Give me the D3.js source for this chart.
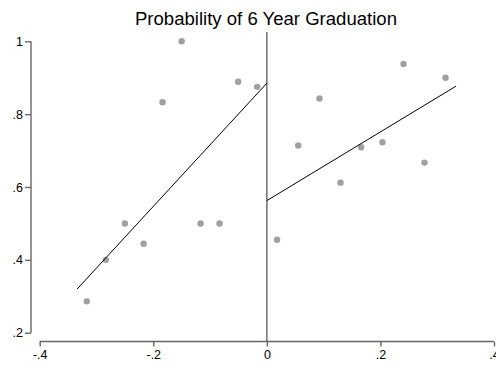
<!DOCTYPE html>
<html><head><meta charset="utf-8">
<script src="https://cdn.jsdelivr.net/npm/d3@7"></script>
<style>body{margin:0;background:#fff}svg{display:block}</style>
</head><body>
<svg id="c" width="496" height="367"></svg>
<script>
const title = "Probability of 6 Year Graduation";
const leftX = [-0.317, -0.2835, -0.25, -0.217, -0.1837, -0.150, -0.1167, -0.0833, -0.0505, -0.017];
const leftY = [0.286, 0.400, 0.500, 0.444, 0.833, 1.000, 0.500, 0.500, 0.889, 0.875];
const rightX = [0.018, 0.0552, 0.0927, 0.1297, 0.166, 0.2036, 0.2407, 0.2776, 0.3146];
const rightY = [0.455, 0.714, 0.843, 0.612, 0.709, 0.723, 0.938, 0.667, 0.900];
const leftFitX = [-0.334, 0];
const leftFitY = [0.320, 0.885];
const rightFitX = [0, 0.3333];
const rightFitY = [0.5626, 0.877];
const xTicks = [-0.4, -0.2, 0, 0.2, 0.4];
const xTickLabels = ["-.4", "-.2", "0", ".2", ".4"];
const yTicks = [0.2, 0.4, 0.6, 0.8, 1];
const yTickLabels = [".2", ".4", ".6", ".8", "1"];

const svg = d3.select("#c");
const font = "'Liberation Sans', Arial, sans-serif";
const x = d3.scaleLinear().domain([-0.4, 0.4]).range([39.7, 494]);
const y = d3.scaleLinear().domain([0.2, 1]).range([332.7, 41.3]);
const axisColor = "#666";

svg.append("text").attr("x", 266).attr("y", 25).attr("text-anchor", "middle")
  .attr("font-family", font).attr("font-size", 17.5).attr("fill", "#000")
  .attr("textLength", 262).attr("lengthAdjust", "spacingAndGlyphs").text(title);

// Y axis
const ya = svg.append("g").attr("transform", "translate(31,0)")
  .call(d3.axisLeft(y).tickValues(yTicks).tickFormat((d, i) => yTickLabels[i]).tickSize(6).tickPadding(2));
ya.select(".domain").attr("d", `M0,${y(0.2)}V${y(1)}`);
// X axis
const xa = svg.append("g").attr("transform", "translate(0,341.5)")
  .call(d3.axisBottom(x).tickValues(xTicks).tickFormat((d, i) => xTickLabels[i]).tickSize(5).tickPadding(4));
xa.select(".domain").attr("d", `M${x(-0.4)},0H${x(0.4)}`);
[ya, xa].forEach(a => {
  a.selectAll(".domain, .tick line").attr("stroke", axisColor).attr("stroke-width", 1.4);
  a.selectAll("text").attr("font-family", font).attr("font-size", 12.5).attr("fill", "#000");
});

// vertical cutoff line
svg.append("line").attr("x1", x(0)).attr("x2", x(0)).attr("y1", 32).attr("y2", 341.5)
  .attr("stroke", axisColor).attr("stroke-width", 1.4);

// points
const pts = leftX.map((v, i) => [v, leftY[i]]).concat(rightX.map((v, i) => [v, rightY[i]]));
svg.append("g").selectAll("circle").data(pts).join("circle")
  .attr("cx", d => x(d[0])).attr("cy", d => y(d[1])).attr("r", 3.2).attr("fill", "#a0a0a0");

// fit lines
const line = d3.line().x(d => x(d[0])).y(d => y(d[1]));
[[leftFitX, leftFitY], [rightFitX, rightFitY]].forEach(([fx, fy]) => {
  svg.append("path").attr("d", line(fx.map((v, i) => [v, fy[i]])))
    .attr("fill", "none").attr("stroke", "#000").attr("stroke-width", 1);
});
</script>
</body></html>
